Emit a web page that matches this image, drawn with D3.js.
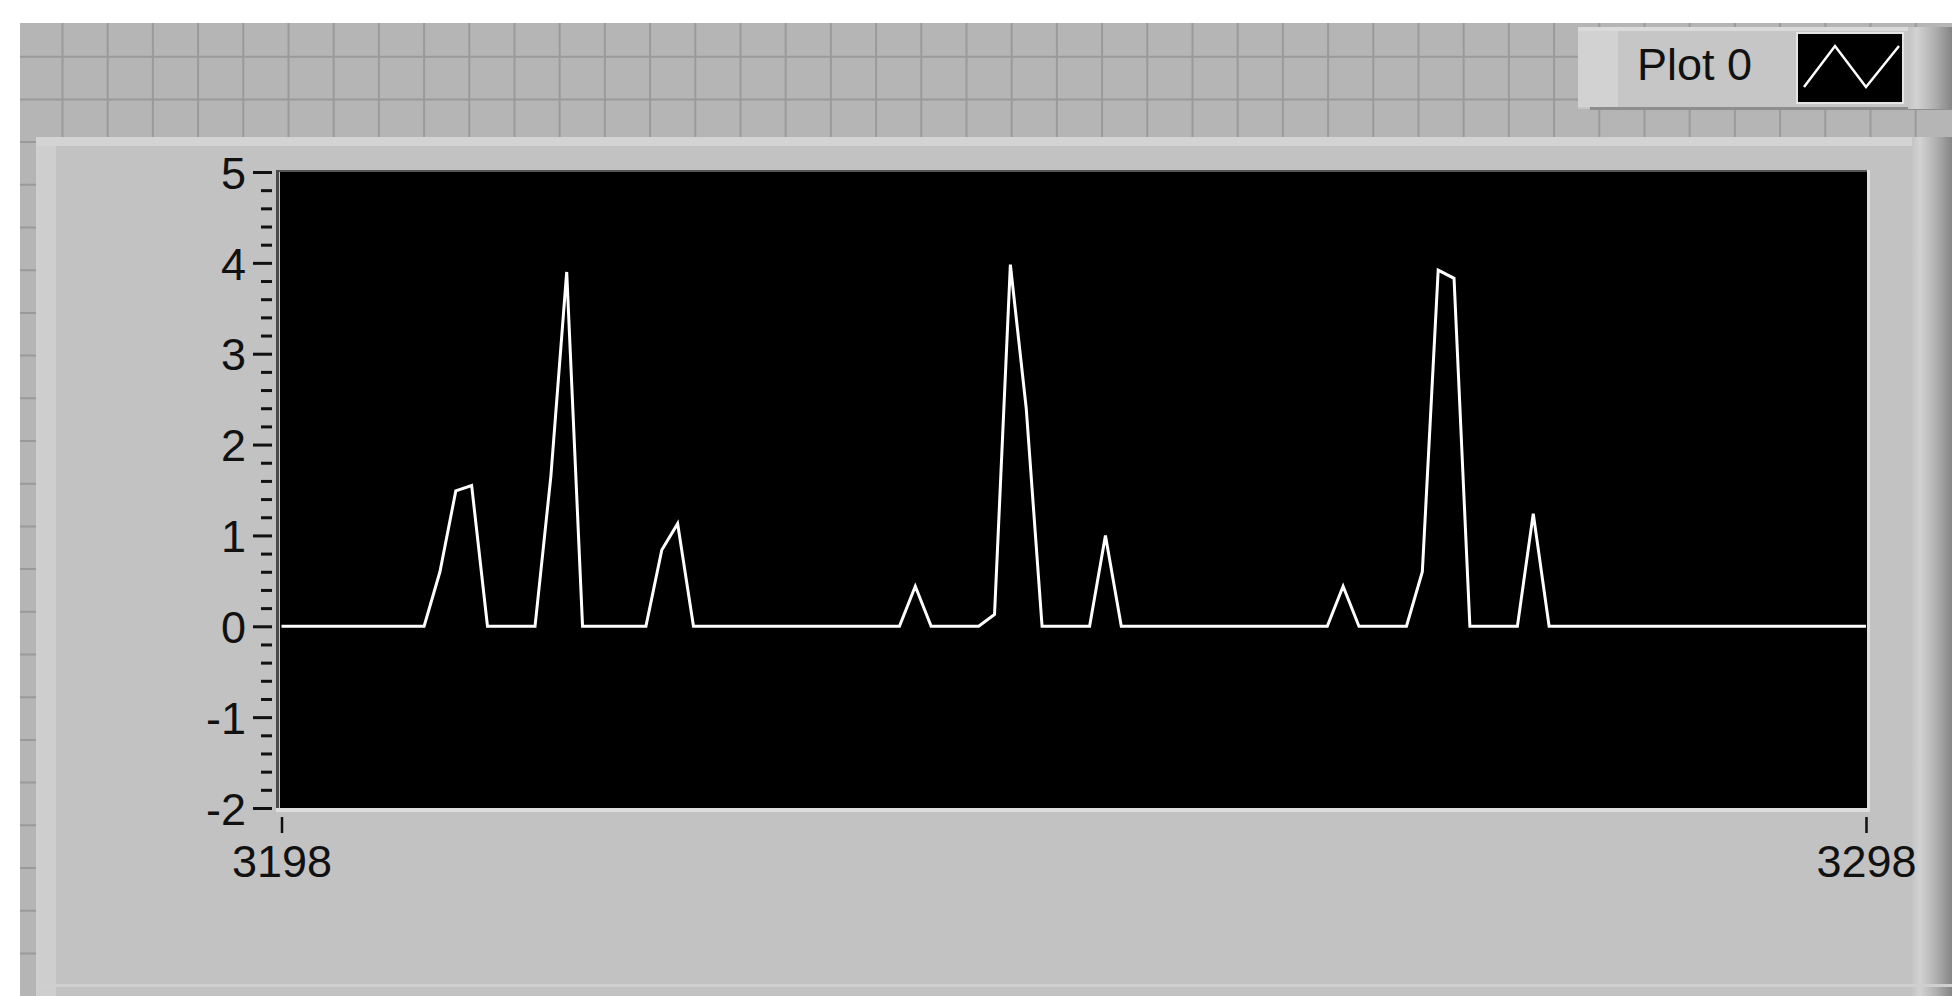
<!DOCTYPE html>
<html>
<head>
<meta charset="utf-8">
<script src="https://cdn.jsdelivr.net/npm/d3@7"></script>
<style>
  html, body { margin: 0; padding: 0; background: #fff; overflow: hidden; }
  text { font-family: 'Liberation Sans', Arial, sans-serif; }
</style>
</head>
<body>
<div id="chart"></div>
<script>
// Data
var xStart = 3198;
var xEnd = 3298;
var xTickValues = [3198, 3298];
var yTickValues = [-2, -1, 0, 1, 2, 3, 4, 5];
var plotName = 'Plot 0';
var plot0 = [
  0, 0, 0, 0, 0, 0, 0, 0, 0, 0,
  0.6, 1.49, 1.55, 0, 0, 0, 0, 1.65, 3.9, 0,
  0, 0, 0, 0, 0.84, 1.13, 0, 0, 0, 0,
  0, 0, 0, 0, 0, 0, 0, 0, 0, 0,
  0.44, 0, 0, 0, 0, 0.13, 3.98, 2.4, 0, 0,
  0, 0, 1.0, 0, 0, 0, 0, 0, 0, 0,
  0, 0, 0, 0, 0, 0, 0, 0.44, 0, 0,
  0, 0, 0.6, 3.92, 3.83, 0, 0, 0, 0, 1.24,
  0, 0, 0, 0, 0, 0, 0, 0, 0, 0,
  0, 0, 0, 0, 0, 0, 0, 0, 0, 0,
  0
];

var W = 1952;
var H = 996;
var plotLeft = 280, plotRight = 1867, plotTop = 172, plotBottom = 808;

var svg = d3.select('#chart')
    .append('svg')
    .attr('width', W)
    .attr('height', H);

var defs = svg.append('defs');
var grad = defs.append('linearGradient').attr('id', 'edge-right')
    .attr('x1', 0).attr('x2', 1).attr('y1', 0).attr('y2', 0);
grad.append('stop').attr('offset', '0%').attr('stop-color', '#c4c4c4');
grad.append('stop').attr('offset', '20%').attr('stop-color', '#d2d2d2');
grad.append('stop').attr('offset', '60%').attr('stop-color', '#b0b0b0');
grad.append('stop').attr('offset', '100%').attr('stop-color', '#858585');

// Front panel grid
svg.append('rect')
    .attr('x', 20).attr('y', 23)
    .attr('width', W - 20).attr('height', H - 23)
    .attr('fill', '#b5b5b5');

var grid = svg.append('g')
    .attr('stroke', '#9a9a9a')
    .attr('stroke-width', 2);
d3.range(62.5, W, 45.2).forEach(function(gx) {
  grid.append('line').attr('x1', gx).attr('x2', gx).attr('y1', 23).attr('y2', H);
});
d3.range(56.7, H, 42.7).forEach(function(gy) {
  grid.append('line').attr('x1', 20).attr('x2', W).attr('y1', gy).attr('y2', gy);
});

// Legend
var legend = svg.append('g');
legend.append('rect')
    .attr('x', 1578).attr('y', 27).attr('width', W - 1578).attr('height', 82)
    .attr('fill', '#c6c6c6');
legend.append('rect')
    .attr('x', 1578).attr('y', 27).attr('width', 40).attr('height', 80)
    .attr('fill', '#d2d2d2');
legend.append('rect')
    .attr('x', 1578).attr('y', 27).attr('width', W - 1578).attr('height', 4)
    .attr('fill', '#dadada');
legend.append('rect')
    .attr('x', 1590).attr('y', 107).attr('width', W - 1590).attr('height', 3)
    .attr('fill', '#8e8e8e');
legend.append('rect')
    .attr('x', 1908).attr('y', 27).attr('width', W - 1908).attr('height', 82)
    .attr('fill', 'url(#edge-right)');
legend.append('text')
    .attr('x', 1637).attr('y', 80)
    .attr('font-size', 45)
    .attr('fill', '#111')
    .text(plotName);
legend.append('rect')
    .attr('x', 1797).attr('y', 33).attr('width', 106).attr('height', 70)
    .attr('fill', '#000')
    .attr('stroke', '#e4e4e4').attr('stroke-width', 2);
legend.append('path')
    .attr('d', d3.line()([[1804, 87], [1835, 46], [1866, 87], [1899, 46]]))
    .attr('fill', 'none')
    .attr('stroke', '#fff')
    .attr('stroke-width', 2.5);

// Graph panel
var panel = svg.append('g');
panel.append('rect')
    .attr('x', 36).attr('y', 137).attr('width', W - 36).attr('height', H - 137)
    .attr('fill', '#c2c2c2');
panel.append('rect')
    .attr('x', 36).attr('y', 137).attr('width', 20).attr('height', H - 137)
    .attr('fill', '#cecece');
panel.append('rect')
    .attr('x', 36).attr('y', 137).attr('width', W - 36).attr('height', 9)
    .attr('fill', '#d3d3d3');
panel.append('rect')
    .attr('x', 1912).attr('y', 137).attr('width', W - 1912).attr('height', H - 137)
    .attr('fill', 'url(#edge-right)');
panel.append('rect')
    .attr('x', 36).attr('y', 984).attr('width', W - 36).attr('height', 3)
    .attr('fill', '#cfcfcf');

// Plot area
svg.append('rect')
    .attr('x', plotLeft).attr('y', plotTop)
    .attr('width', plotRight - plotLeft).attr('height', plotBottom - plotTop)
    .attr('fill', '#000');
svg.append('rect')
    .attr('x', 276).attr('y', plotBottom).attr('width', plotRight - 276 + 3).attr('height', 4)
    .attr('fill', '#dedede');
svg.append('rect')
    .attr('x', plotRight).attr('y', plotTop - 2).attr('width', 3).attr('height', plotBottom - plotTop + 6)
    .attr('fill', '#dedede');
svg.append('rect')
    .attr('x', 276).attr('y', plotTop - 2).attr('width', plotRight - 276).attr('height', 2)
    .attr('fill', '#555');
svg.append('rect')
    .attr('x', 276).attr('y', plotTop - 2).attr('width', 3).attr('height', plotBottom - plotTop + 2)
    .attr('fill', '#4a4a4a');

// Scales
var scaleX = d3.scaleLinear()
    .domain([xStart, xEnd])
    .range([281.5, 1866]);
var scaleY = d3.scaleLinear()
    .domain([d3.min(yTickValues), d3.max(yTickValues)])
    .range([plotBottom, plotTop]);

// plain hyphen minus like the original labels
var fmt = function(d) { return String(d); };

// Y axis
var minorValues = d3.range(-2, 5.0001, 0.2).filter(function(v) {
  return Math.abs(v - Math.round(v)) > 0.01;
});
var axisYMinor = d3.axisLeft(scaleY)
    .tickValues(minorValues)
    .tickSize(11)
    .tickFormat('');
svg.append('g')
    .attr('class', 'y-minor')
    .attr('transform', 'translate(272,0)')
    .call(axisYMinor);

var axisY = d3.axisLeft(scaleY)
    .tickValues(yTickValues)
    .tickSize(19)
    .tickPadding(7)
    .tickFormat(fmt);
svg.append('g')
    .attr('class', 'y-axis')
    .attr('transform', 'translate(272,0)')
    .call(axisY);

// X axis
var axisX = d3.axisBottom(scaleX)
    .tickValues(xTickValues)
    .tickSize(16)
    .tickFormat(fmt);
svg.append('g')
    .attr('class', 'x-axis')
    .attr('transform', 'translate(0,817)')
    .call(axisX);

svg.selectAll('.domain').remove();
svg.selectAll('.y-axis line, .y-minor line')
    .attr('stroke', '#111')
    .attr('stroke-width', 3);
svg.selectAll('.x-axis line')
    .attr('stroke', '#111')
    .attr('stroke-width', 2.5);
svg.selectAll('.y-axis text')
    .attr('font-size', 45)
    .attr('font-family', 'Liberation Sans, Arial, sans-serif')
    .attr('fill', '#111')
    .attr('dy', '0.36em');
svg.selectAll('.x-axis text')
    .attr('font-size', 45)
    .attr('font-family', 'Liberation Sans, Arial, sans-serif')
    .attr('fill', '#111')
    .attr('y', 60)
    .attr('dy', 0);

// Plot 0 trace
var line = d3.line()
    .x(function(d, i) { return scaleX(xStart + i); })
    .y(function(d) { return scaleY(d); });

svg.append('path')
    .datum(plot0)
    .attr('d', line)
    .attr('fill', 'none')
    .attr('stroke', '#fff')
    .attr('stroke-width', 3)
    .attr('stroke-linejoin', 'miter');
</script>
</body>
</html>
